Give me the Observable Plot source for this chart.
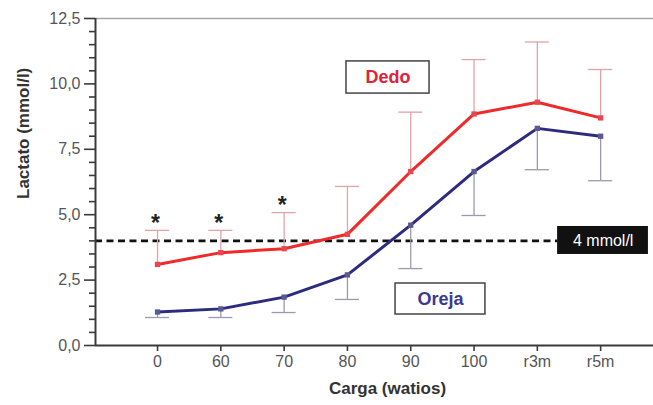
<!DOCTYPE html>
<html>
<head>
<meta charset="utf-8">
<script src="https://cdn.jsdelivr.net/npm/d3@7"></script>
<script src="https://cdn.jsdelivr.net/npm/@observablehq/plot@0.6"></script>
<style>
  html, body { margin: 0; padding: 0; background: #fff; }
  svg { display: block; }
</style>
</head>
<body>
<script>
// ---- data ----
const categories = ["0", "60", "70", "80", "90", "100", "r3m", "r5m"];
const dedo       = [3.1, 3.55, 3.7, 4.25, 6.65, 8.85, 9.3, 8.7];
const dedoUpper  = [4.4, 4.4, 5.08, 6.08, 8.92, 10.93, 11.6, 10.55];
const oreja      = [1.28, 1.4, 1.85, 2.7, 4.6, 6.65, 8.3, 8.0];
const orejaLower = [1.07, 1.07, 1.26, 1.76, 2.94, 4.97, 6.72, 6.3];
const signif     = ["*", "*", "*", "", "", "", "", ""];
const yTicks     = [0, 2.5, 5, 7.5, 10, 12.5];
const yMinor     = [0.5, 1, 1.5, 2, 3, 3.5, 4, 4.5, 5.5, 6, 6.5, 7, 8, 8.5, 9, 9.5, 10.5, 11, 11.5, 12];
const threshold  = 4;
const thresholdLabel = "4 mmol/l";

// ---- table ----
const rows = categories.map((c, i) => ({
  i, c, dedo: dedo[i], dedoUpper: dedoUpper[i], oreja: oreja[i], orejaLower: orejaLower[i], s: signif[i]
}));

const font = "'Liberation Sans', Arial, Helvetica, sans-serif";
const fmt = d => d.toFixed(1).replace(".", ",");
const red = "#ee2a2a", navy = "#2d2b7e";
const xMin = -0.98, xMax = 7.835;
const cap = 0.19;

const chart = Plot.plot({
  width: 653,
  height: 405,
  marginLeft: 95,
  marginRight: 0,
  marginTop: 18,
  marginBottom: 60,
  style: { fontFamily: font, fontSize: "16px", color: "#4a4a4a", background: "#fff", overflow: "visible" },
  x: { type: "linear", domain: [xMin, xMax], axis: null, label: null },
  y: { domain: [0, 12.5], axis: null, label: null },
  marks: [
    // frame
    Plot.ruleY([12.5], { stroke: "#a8a8a8", strokeWidth: 1.5 }),
    // threshold dashed line
    Plot.ruleY([threshold], { x1: xMin, x2: 6.32, stroke: "#111", strokeWidth: 2.8, strokeDasharray: "7,4.5" }),
    // error bars Dedo (up)
    Plot.ruleX(rows, { x: "i", y1: "dedo", y2: "dedoUpper", stroke: "#e3a2a8", strokeWidth: 1.3 }),
    Plot.ruleY(rows, { y: "dedoUpper", x1: d => d.i - cap, x2: d => d.i + cap, stroke: "#e3a2a8", strokeWidth: 1.3 }),
    // error bars Oreja (down)
    Plot.ruleX(rows, { x: "i", y1: "oreja", y2: "orejaLower", stroke: "#9c9aae", strokeWidth: 1.3 }),
    Plot.ruleY(rows, { y: "orejaLower", x1: d => d.i - cap, x2: d => d.i + cap, stroke: "#9c9aae", strokeWidth: 1.3 }),
    // lines
    Plot.lineY(rows, { x: "i", y: "dedo", stroke: red, strokeWidth: 3 }),
    Plot.lineY(rows, { x: "i", y: "oreja", stroke: navy, strokeWidth: 3 }),
    Plot.dot(rows, { x: "i", y: "dedo", symbol: "square", r: 3, fill: "#e8474f" }),
    Plot.dot(rows, { x: "i", y: "oreja", symbol: "square", r: 3, fill: "#5a5a92" }),
    // significance asterisks
    Plot.text(rows, { x: "i", y: "dedoUpper", text: "s", dy: -7, dx: -2, fontSize: 23, fontWeight: "bold", fill: "#222" }),
    // axes
    Plot.axisY({ ticks: yTicks, tickFormat: fmt, tickSize: 11, tickPadding: 4, fontSize: 16, color: "#555", stroke: "#3a3a3a", strokeWidth: 1.6, label: null }),
    Plot.axisY({ ticks: yMinor, tickFormat: () => "", tickSize: 6, stroke: "#3a3a3a", strokeWidth: 1.6, label: null }),
    Plot.axisX({ ticks: rows.map(d => d.i), tickFormat: i => categories[i], tickSize: 6, tickPadding: 4, fontSize: 16, color: "#555", stroke: "#3a3a3a", strokeWidth: 1.6, label: null }),
    Plot.ruleY([0], { stroke: "#3a3a3a", strokeWidth: 2 }),
    Plot.ruleX([xMin], { stroke: "#3a3a3a", strokeWidth: 2 }),
    // axis titles
    Plot.text(["Lactato (mmol/l)"], { frameAnchor: "left", rotate: -90, dx: -72, dy: 17, fontSize: 17, fontWeight: "bold", fill: "#333", style: "letter-spacing:1px" }),
    Plot.text(["Carga (watios)"], { frameAnchor: "bottom", dx: 13, dy: 48, fontSize: 17, fontWeight: "bold", fill: "#333" }),
    // series label boxes
    Plot.rect([0], { x1: 2.985, x2: 4.297, y1: 9.63, y2: 10.86, fill: "#fff", stroke: "#444", strokeWidth: 1.5 }),
    Plot.text(["Dedo"], { x: 3.64, y: 10.24, fontSize: 18, fontWeight: "bold", fill: "#e0213a" }),
    Plot.rect([0], { x1: 3.76, x2: 5.18, y1: 1.185, y2: 2.37, fill: "#fff", stroke: "#444", strokeWidth: 1.5 }),
    Plot.text(["Oreja"], { x: 4.47, y: 1.78, fontSize: 18, fontWeight: "bold", fill: "#3a3890" }),
    // threshold label
    Plot.rect([0], { x1: 6.32, x2: 7.755, y1: 3.48, y2: 4.55, fill: "#111" }),
    Plot.text([thresholdLabel], { x: 7.04, y: threshold, fontSize: 16, fill: "#fff" })
  ]
});
document.body.appendChild(chart);
</script>
</body>
</html>
